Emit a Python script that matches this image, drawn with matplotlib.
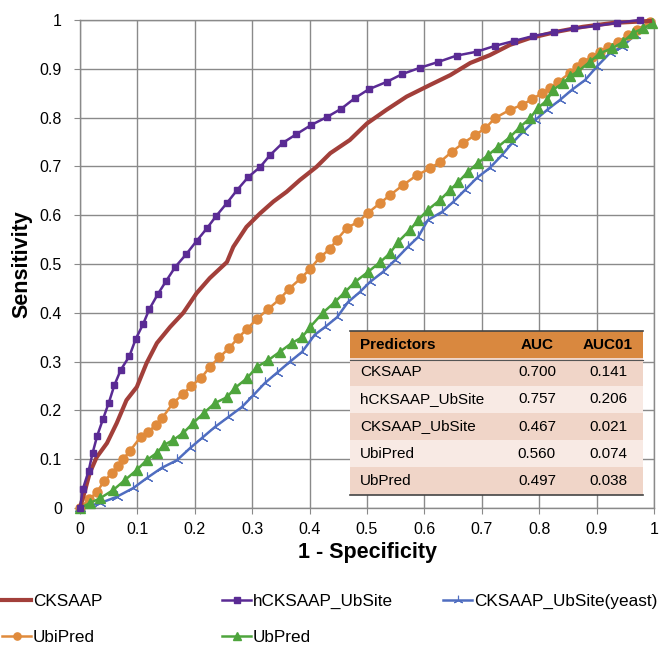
import numpy as np
import matplotlib
matplotlib.use("Agg")
import matplotlib.pyplot as plt

plt.rcParams['font.family'] = ['Liberation Sans', 'DejaVu Sans']

# ROC curves (fpr, tpr)
cksaap_x = [0, .009, .017, .029, .047, .064, .081, .099, .116, .134, .157, .18, .203, .226, .256,
            .267, .29, .314, .337, .36, .383, .412, .436, .47, .5, .534, .569, .61, .645, .68,
            .714, .749, .784, .831, .876, .929, .993]
cksaap_y = [0, .037, .072, .104, .133, .174, .221, .248, .297, .338, .371, .4, .44, .471, .504,
            .535, .576, .604, .628, .648, .672, .699, .727, .754, .788, .816, .843, .867, .887, .912,
            .928, .949, .963, .976, .986, .994, .998]

hck_x = [0, .005, .015, .022, .03, .04, .05, .06, .071, .086, .097, .11, .121, .136, .15, .166,
         .185, .203, .221, .237, .256, .274, .293, .314, .331, .353, .377, .403, .43,
         .455, .479, .503, .534, .561, .592, .624, .656, .691, .723, .756, .789, .826, .861,
         .899, .935, .976]
hck_y = [0, .039, .076, .113, .148, .182, .215, .252, .283, .311, .346, .377, .408, .439, .465, .494,
         .52, .547, .573, .598, .625, .652, .678, .699, .723, .748, .766, .785, .801,
         .818, .84, .858, .873, .889, .902, .914, .927, .935, .947, .957, .967, .975, .983,
         .988, .994, 1.0]

yeast_x = [0, .035, .064, .093, .116, .142, .169, .192, .212, .235, .258, .282, .302, .322, .343,
           .366, .387, .409, .427, .448, .467, .488, .505, .528, .549, .571, .589, .606, .631,
           .65, .671, .691, .714, .735, .753, .772, .793, .814, .836, .857, .88, .9, .923, .944,
           .967, .99]
yeast_y = [0, .01, .023, .041, .061, .082, .098, .123, .143, .166, .186, .207, .231, .256, .277,
           .3, .32, .355, .371, .391, .422, .443, .463, .484, .508, .535, .555, .59, .607,
           .627, .652, .676, .697, .723, .748, .771, .795, .816, .836, .857, .877, .904, .932, .945,
           .969, .99]

ubi_x = [0, .016, .029, .042, .055, .066, .075, .087, .106, .119, .132, .143, .162, .18, .193,
         .211, .226, .243, .26, .275, .291, .308, .328, .348, .364, .385, .401, .418, .435,
         .447, .465, .484, .502, .523, .54, .563, .587, .61, .627, .648, .668, .688, .706,
         .723, .749, .77, .788, .805, .819, .833, .854, .866, .876, .892, .906, .92, .937,
         .955, .97, .993]
ubi_y = [0, .018, .032, .055, .071, .086, .1, .117, .146, .156, .17, .184, .215, .234, .25,
         .266, .289, .309, .328, .348, .367, .387, .408, .428, .449, .471, .49, .514, .53,
         .549, .574, .586, .605, .625, .641, .662, .682, .696, .709, .73, .748, .764, .778,
         .799, .816, .826, .838, .85, .86, .873, .892, .904, .914, .924, .934, .945, .955,
         .969, .98, .996]

ubp_x = [0, .017, .035, .058, .078, .099, .116, .134, .146, .162, .18, .197, .216, .235, .256,
         .27, .291, .308, .328, .348, .369, .387, .401, .423, .444, .462, .479, .502, .523,
         .54, .554, .575, .589, .606, .627, .645, .659, .676, .693, .711, .728, .749, .767,
         .784, .798, .814, .824, .842, .854, .868, .888, .906, .927, .946, .963, .981, .997]
ubp_y = [0, .01, .02, .037, .057, .078, .098, .113, .129, .139, .154, .174, .195, .215, .227,
         .246, .266, .289, .303, .32, .338, .35, .371, .4, .422, .443, .463, .484, .504,
         .522, .545, .57, .59, .611, .631, .652, .668, .689, .707, .723, .74, .76, .781,
         .799, .82, .836, .857, .871, .885, .895, .914, .932, .942, .955, .973, .983, .993]

# AUC table
predictors = ['CKSAAP', 'hCKSAAP_UbSite', 'CKSAAP_UbSite', 'UbiPred', 'UbPred']
auc = ['0.700', '0.757', '0.467', '0.560', '0.497']
auc01 = ['0.141', '0.206', '0.021', '0.074', '0.038']

c_red = '#A23F3A'
c_purple = '#5A2B94'
c_blue = '#4F6DC0'
c_orange = '#E08B3C'
c_green = '#4EA53D'

fig = plt.figure(figsize=(6.61, 6.46), dpi=100)
ax = fig.add_axes([80/661, 1-508/646, 574/661, 488/646])

l1, = ax.plot(cksaap_x, cksaap_y, color=c_red, lw=3, clip_on=False, zorder=5)
l2, = ax.plot(hck_x, hck_y, color=c_purple, lw=1.8, marker='s', ms=5, clip_on=False, zorder=6)
l3, = ax.plot(yeast_x, yeast_y, color=c_blue, lw=1.8, marker=(3, 2, 0), ms=8.5, mew=0.8,
              clip_on=False, zorder=3)
l4, = ax.plot(ubi_x, ubi_y, color=c_orange, lw=1.8, marker='o', ms=6.5, clip_on=False, zorder=4)
l5, = ax.plot(ubp_x, ubp_y, color=c_green, lw=1.8, marker='^', ms=6.5, clip_on=False, zorder=4)

ax.set_xlim(0, 1)
ax.set_ylim(0, 1)
ticks = np.arange(0, 1.01, 0.1)
labs = ['0'] + ['%.1f' % t for t in ticks[1:-1]] + ['1']
ax.set_xticks(ticks)
ax.set_xticklabels(labs)
ax.set_yticks(ticks)
ax.set_yticklabels(labs)
ax.grid(True, color='#8a8a8a', lw=1)
ax.set_axisbelow(True)
for s in ax.spines.values():
    s.set_color('#8a8a8a')
    s.set_linewidth(1)
ax.tick_params(axis='both', colors='#8a8a8a', labelcolor='black', labelsize=11.5, length=4)
ax.tick_params(axis='y', pad=9)
ax.tick_params(axis='x', pad=6)
ax.set_xlabel('1 - Specificity', fontsize=15.5, fontweight='bold', labelpad=4)
ax.set_ylabel('Sensitivity', fontsize=15.5, fontweight='bold', labelpad=5)

# table inside the plot
rows = [['Predictors', 'AUC', 'AUC01']] + [[p, a, b] for p, a, b in zip(predictors, auc, auc01)]
tab = ax.table(cellText=rows, bbox=[0.470, 0.027, 0.511, 0.336], colWidths=[0.515, 0.246, 0.239],
               zorder=10)
tab.auto_set_font_size(False)
for (r, c), cell in tab.get_celld().items():
    cell.set_edgecolor('none')
    cell.set_linewidth(0)
    txt = cell.get_text()
    txt.set_fontsize(11)
    if c == 0:
        cell._loc = 'left'
        txt.set_ha('left')
        cell.PAD = 0.07
    else:
        cell._loc = 'center'
        txt.set_ha('center')
    if r == 0:
        cell.set_facecolor('#D9883F')
        txt.set_fontweight('bold')
    elif r % 2 == 1:
        cell.set_facecolor('#F0D5C8')
    else:
        cell.set_facecolor('#F8EAE4')
ax.plot([0.470, 0.981], [0.363, 0.363], transform=ax.transAxes, color='#444444', lw=1.2, zorder=11,
        clip_on=False)
ax.plot([0.470, 0.981], [0.304, 0.304], transform=ax.transAxes, color='#555555', lw=0.8, zorder=11,
        clip_on=False)
ax.plot([0.470, 0.981], [0.027, 0.027], transform=ax.transAxes, color='#444444', lw=1.2, zorder=11,
        clip_on=False)

# legend, three columns placed by hand
leg_kw = dict(frameon=False, fontsize=12.3, handlelength=1.7, handletextpad=0.12,
              labelspacing=1.2, borderpad=0, borderaxespad=0, loc='upper left', markerscale=0.8)
top = 1 - 594/646
fig.legend([l1, l4], ['CKSAAP', 'UbiPred'], bbox_to_anchor=(2/661, top), **leg_kw)
fig.legend([l2, l5], ['hCKSAAP_UbSite', 'UbPred'], bbox_to_anchor=(222/661, top), **leg_kw)
fig.legend([l3], ['CKSAAP_UbSite(yeast)'], bbox_to_anchor=(443/661, top), **leg_kw)

fig.savefig('out.png', dpi=100)
